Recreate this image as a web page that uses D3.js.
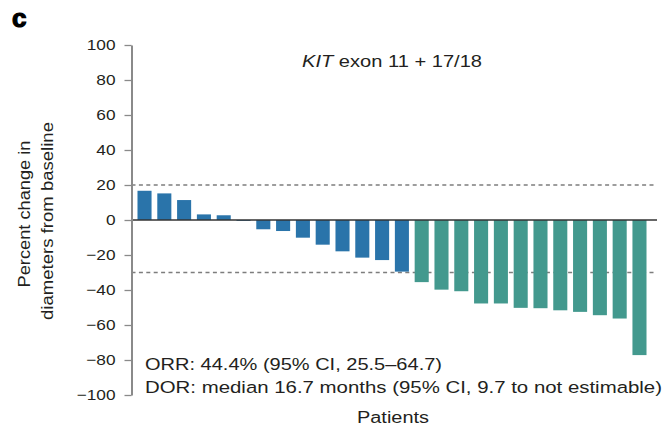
<!DOCTYPE html>
<html>
<head>
<meta charset="utf-8">
<script src="https://cdn.jsdelivr.net/npm/d3@7"></script>
<style>
  html, body { margin: 0; padding: 0; background: #fff; }
  svg { display: block; font-family: "Liberation Sans", Arial, Helvetica, sans-serif; }
</style>
</head>
<body>
<svg id="chart" width="666" height="428"></svg>
<script>
// Best percent change in target-lesion diameters, one bar per patient (waterfall)
const patients = d3.range(1, 27).map(String);
const percentChange = [16.7, 15.2, 11.4, 3.2, 2.7, -0.5, -5.3, -6.3, -10.1, -14.1, -17.9, -21.5, -22.9, -29.5,
                       -35.5, -39.8, -40.7, -47.7, -47.7, -50.2, -50.4, -51.6, -52.5, -54.4, -56.3, -77.2];
const yTicks = [100, 80, 60, 40, 20, 0, -20, -40, -60, -80, -100];
const refLines = [20, -30];          // progression / partial-response thresholds
const responseCut = -30;
const titleMain = "KIT";
const titleRest = " exon 11 + 17/18";
const orrText = "ORR: 44.4% (95% CI, 25.5\u201364.7)";
const dorText = "DOR: median 16.7 months (95% CI, 9.7 to not estimable)";
const yLabelLines = ["Percent change in", "diameters from baseline"];
const xLabel = "Patients";
const panelLetter = "c";

const colBlue = "#2a74aa";
const colGreen = "#43998e";
const ink = "#231f20";

const svg = d3.select("#chart");
const axisX = 131.5, plotRight = 657;

const y = d3.scaleLinear().domain([-100, 100]).range([395, 45]);
const x = d3.scaleBand().domain(patients).range([127, plotRight])
  .paddingInner(0.29).paddingOuter(0.53);

// reference dashed lines
svg.append("g").selectAll("line").data(refLines).join("line")
  .attr("x1", axisX).attr("x2", plotRight - 2)
  .attr("y1", d => y(d)).attr("y2", d => y(d))
  .attr("stroke", "#7d7d7d").attr("stroke-width", 1.4)
  .attr("stroke-dasharray", "4,3.4");

// bars
svg.append("g").selectAll("rect").data(percentChange).join("rect")
  .attr("x", (d, i) => x(patients[i]))
  .attr("width", x.bandwidth())
  .attr("y", d => y(Math.max(0, d)))
  .attr("height", d => Math.abs(y(d) - y(0)))
  .attr("fill", d => d <= responseCut ? colGreen : colBlue);

// zero line
svg.append("line")
  .attr("x1", axisX).attr("x2", plotRight)
  .attr("y1", y(0)).attr("y2", y(0))
  .attr("stroke", "#333").attr("stroke-width", 1.3);

// y axis
const yAxis = d3.axisLeft(y).tickValues(yTicks).tickSize(7).tickSizeOuter(0).tickPadding(9)
  .tickFormat(d => d < 0 ? "\u2212" + Math.abs(d) : String(d));
const gy = svg.append("g").attr("transform", `translate(${axisX},0)`).call(yAxis);
gy.select(".domain").attr("stroke", "#8a8a8a").attr("stroke-width", 2);
gy.selectAll(".tick line").attr("stroke", "#8a8a8a").attr("stroke-width", 1.3);
gy.selectAll(".tick text").attr("fill", ink).attr("font-size", 15)
  .attr("font-family", "'Liberation Sans', Arial, sans-serif")
  .each(function () {
    const w = this.getComputedTextLength();
    d3.select(this).attr("textLength", w * 1.15).attr("lengthAdjust", "spacingAndGlyphs");
  });

// helper: text stretched to a set width
function stretched(sel, width) {
  sel.attr("textLength", width).attr("lengthAdjust", "spacingAndGlyphs");
  return sel;
}

// panel letter
svg.append("text").attr("x", 12).attr("y", 27)
  .attr("font-size", 26).attr("font-weight", 700).attr("fill", "#000")
  .attr("stroke", "#000").attr("stroke-width", 1.2)
  .text(panelLetter);

// title
const title = svg.append("text").attr("x", 302).attr("y", 67)
  .attr("font-size", 16.5).attr("fill", ink);
title.append("tspan").attr("font-style", "italic").text(titleMain);
title.append("tspan").text(titleRest);
stretched(title, 180);

// annotations
stretched(svg.append("text").attr("x", 145).attr("y", 370).attr("font-size", 16.3)
  .attr("fill", ink).text(orrText), 297);
stretched(svg.append("text").attr("x", 145).attr("y", 393).attr("font-size", 16.3)
  .attr("fill", ink).text(dorText), 517);

// x label
stretched(svg.append("text").attr("x", 357).attr("y", 423).attr("font-size", 16)
  .attr("fill", ink).text(xLabel), 72);

// y label (two lines, rotated)
const yl = [[30, 214, 147], [53, 221, 198]];
yLabelLines.forEach((t, i) => {
  stretched(svg.append("text")
    .attr("transform", `translate(${yl[i][0]},${yl[i][1]}) rotate(-90)`)
    .attr("text-anchor", "middle").attr("font-size", 16).attr("fill", ink)
    .text(t), yl[i][2]);
});
</script>
</body>
</html>
